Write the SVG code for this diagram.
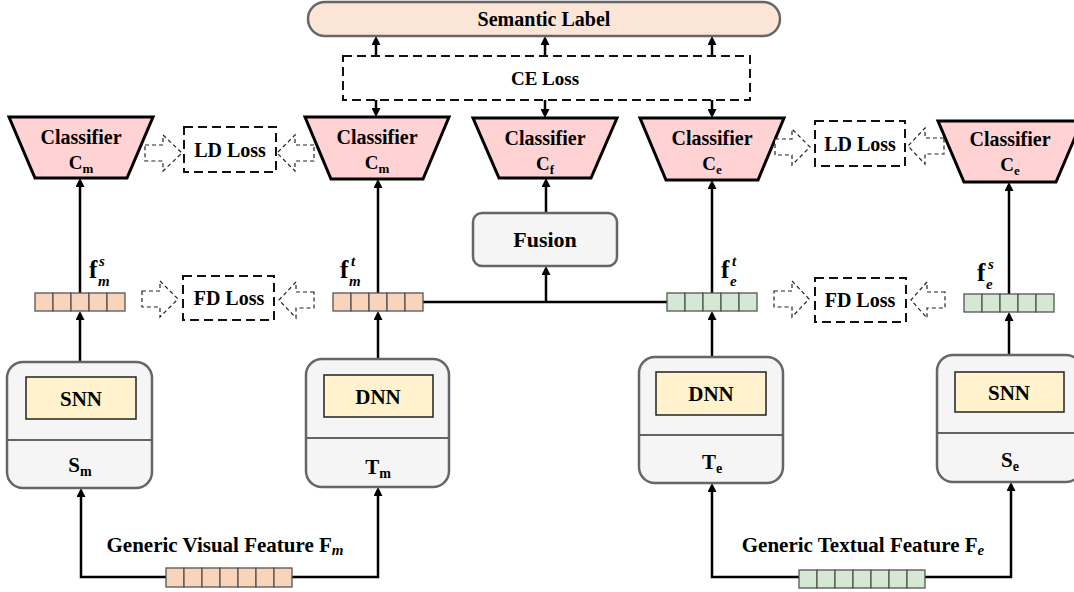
<svg xmlns="http://www.w3.org/2000/svg" width="1074" height="592" viewBox="0 0 1074 592">
<style>
.t{font-family:"Liberation Serif","Times New Roman",serif;font-weight:bold;fill:#000}
.i{font-style:italic}
.loss{fill:#fff;stroke:#111;stroke-width:2;stroke-dasharray:9 5}
.blk{fill:#fff;stroke:#222;stroke-width:1.2;stroke-dasharray:4 3}
.cls{fill:#ffd3d3;stroke:#000;stroke-width:3}
.model{fill:#f5f5f5;stroke:#666;stroke-width:2.5}
.inner{fill:#fff2cc;stroke:#222;stroke-width:1.5}
.dv{stroke:#333;stroke-width:1.5}
.vo rect{fill:#f8d4bb;stroke:#555;stroke-width:1.3}
.vg rect{fill:#d5e8d4;stroke:#555;stroke-width:1.3}
.c{fill:none;stroke:#000;stroke-width:2.5;marker-end:url(#ah)}
.l{fill:none;stroke:#000;stroke-width:2.5}
</style>
<defs>
<marker id="ah" markerUnits="userSpaceOnUse" viewBox="0 0 9 9" markerWidth="9" markerHeight="9" refX="6" refY="4.5" orient="auto">
<path d="M0,0 L9,4.5 L0,9 Z" fill="#000"/>
</marker>
</defs>

<g id="connectors">
<path class="c" d="M376,56 V39"/>
<path class="c" d="M545,56 V39"/>
<path class="c" d="M712,56 V39"/>
<path class="c" d="M376,100 V114"/>
<path class="c" d="M545,100 V115"/>
<path class="c" d="M712,100 V115"/>
<path class="c" d="M80,293 V181"/>
<path class="c" d="M378,293 V182"/>
<path class="c" d="M712,293 V183"/>
<path class="c" d="M1009,294 V185"/>
<path class="c" d="M546,213 V181"/>
<path class="c" d="M546,302 V269"/>
<path class="l" d="M423,302 H667"/>
<path class="c" d="M80,362 V314"/>
<path class="c" d="M378,359 V314"/>
<path class="c" d="M712,357 V314"/>
<path class="c" d="M1009,355 V315"/>
<path class="c" d="M166,577 H81 V491"/>
<path class="c" d="M292,577 H378 V490"/>
<path class="c" d="M799,577 H712 V486"/>
<path class="c" d="M925,577 H1011 V485"/>
</g>

<g id="semantic-label">
<rect x="308" y="2" width="472" height="34" rx="17" fill="#fbe5d6" stroke="#666" stroke-width="2.5"/>
<text class="t" x="544" y="26" font-size="20" text-anchor="middle">Semantic Label</text>
</g>

<g id="ce-loss">
<rect class="loss" x="343" y="56" width="407" height="44"/>
<text class="t" x="545" y="85" font-size="19" text-anchor="middle">CE Loss</text>
</g>

<g id="classifier-sm">
<polygon class="cls" points="9,117 153,117 127,178 35,178"/>
<text class="t" x="81" y="144" font-size="20" text-anchor="middle">Classifier</text>
<text class="t" x="81" y="169" font-size="19" text-anchor="middle">C<tspan font-size="13" dy="4">m</tspan></text>
</g>
<g id="classifier-tm">
<polygon class="cls" points="305,117 449,117 423,179 331,179"/>
<text class="t" x="377" y="144" font-size="20" text-anchor="middle">Classifier</text>
<text class="t" x="377" y="169" font-size="19" text-anchor="middle">C<tspan font-size="13" dy="4">m</tspan></text>
</g>
<g id="classifier-f">
<polygon class="cls" points="473,118 617,118 591,178 499,178"/>
<text class="t" x="545" y="145" font-size="20" text-anchor="middle">Classifier</text>
<text class="t" x="545" y="170" font-size="19" text-anchor="middle">C<tspan font-size="13" dy="4">f</tspan></text>
</g>
<g id="classifier-te">
<polygon class="cls" points="640,118 784,118 758,180 666,180"/>
<text class="t" x="712" y="145" font-size="20" text-anchor="middle">Classifier</text>
<text class="t" x="712" y="170" font-size="19" text-anchor="middle">C<tspan font-size="13" dy="4">e</tspan></text>
</g>
<g id="classifier-se">
<polygon class="cls" points="938,121 1082,121 1056,182 964,182"/>
<text class="t" x="1010" y="146" font-size="20" text-anchor="middle">Classifier</text>
<text class="t" x="1010" y="171" font-size="19" text-anchor="middle">C<tspan font-size="13" dy="4">e</tspan></text>
</g>

<g id="ld-loss-m">
<path class="blk" d="M145,145 H163 V135 L182,153 L163,171 V161 H145 Z"/>
<rect class="loss" x="184" y="127" width="92" height="45"/>
<text class="t" x="230" y="157" font-size="20" text-anchor="middle">LD Loss</text>
<path class="blk" d="M314,145 H295 V135 L277,153 L295,171 V161 H314 Z"/>
</g>
<g id="ld-loss-e">
<path class="blk" d="M775,139 H792 V129 L810,147 L792,165 V155 H775 Z"/>
<rect class="loss" x="815" y="121" width="90" height="45"/>
<text class="t" x="860" y="151" font-size="20" text-anchor="middle">LD Loss</text>
<path class="blk" d="M944,138 H925 V128 L908,146 L925,164 V154 H944 Z"/>
</g>
<g id="fd-loss-m">
<path class="blk" d="M142,291 H160 V281 L178,299 L160,317 V307 H142 Z"/>
<rect class="loss" x="183" y="276" width="91" height="44"/>
<text class="t" x="229" y="305" font-size="20" text-anchor="middle">FD Loss</text>
<path class="blk" d="M314,292 H296 V282 L279,300 L296,318 V308 H314 Z"/>
</g>
<g id="fd-loss-e">
<path class="blk" d="M774,291 H792 V281 L809,299 L792,317 V307 H774 Z"/>
<rect class="loss" x="815" y="278" width="91" height="44"/>
<text class="t" x="860" y="307" font-size="20" text-anchor="middle">FD Loss</text>
<path class="blk" d="M945,292 H927 V282 L911,300 L927,318 V308 H945 Z"/>
</g>

<g id="fusion">
<rect x="473" y="213" width="144" height="53" rx="9" fill="#f5f5f5" stroke="#666" stroke-width="2.5"/>
<text class="t" x="545" y="247" font-size="22" text-anchor="middle">Fusion</text>
</g>

<g id="feat-ms" class="vo">
<rect x="35" y="293" width="18" height="18"/><rect x="53" y="293" width="18" height="18"/><rect x="71" y="293" width="18" height="18"/><rect x="89" y="293" width="18" height="18"/><rect x="107" y="293" width="18" height="18"/>
<text class="t" x="89" y="278" font-size="25">f</text>
<text class="t i" x="99" y="266" font-size="15">s</text>
<text class="t i" x="98" y="286" font-size="15">m</text>
</g>
<g id="feat-mt" class="vo">
<rect x="333" y="293" width="18" height="18"/><rect x="351" y="293" width="18" height="18"/><rect x="369" y="293" width="18" height="18"/><rect x="387" y="293" width="18" height="18"/><rect x="405" y="293" width="18" height="18"/>
<text class="t" x="340" y="278" font-size="25">f</text>
<text class="t i" x="351" y="266" font-size="15">t</text>
<text class="t i" x="349" y="286" font-size="15">m</text>
</g>
<g id="feat-et" class="vg">
<rect x="667" y="293" width="18" height="18"/><rect x="685" y="293" width="18" height="18"/><rect x="703" y="293" width="18" height="18"/><rect x="721" y="293" width="18" height="18"/><rect x="739" y="293" width="18" height="18"/>
<text class="t" x="721" y="278" font-size="25">f</text>
<text class="t i" x="732" y="266" font-size="15">t</text>
<text class="t i" x="730" y="286" font-size="15">e</text>
</g>
<g id="feat-es" class="vg">
<rect x="964" y="294" width="18" height="18"/><rect x="982" y="294" width="18" height="18"/><rect x="1000" y="294" width="18" height="18"/><rect x="1018" y="294" width="18" height="18"/><rect x="1036" y="294" width="18" height="18"/>
<text class="t" x="977" y="281" font-size="25">f</text>
<text class="t i" x="988" y="269" font-size="15">s</text>
<text class="t i" x="986" y="289" font-size="15">e</text>
</g>

<g id="model-sm">
<rect class="model" x="7" y="362" width="145" height="126" rx="16"/>
<line class="dv" x1="8" y1="440" x2="151" y2="440"/>
<rect class="inner" x="26" y="377" width="110" height="42"/>
<text class="t" x="81" y="406" font-size="21" text-anchor="middle">SNN</text>
<text class="t" x="80" y="472" font-size="21" text-anchor="middle">S<tspan font-size="14" dy="4">m</tspan></text>
</g>
<g id="model-tm">
<rect class="model" x="306" y="359" width="143" height="128" rx="16"/>
<line class="dv" x1="307" y1="438" x2="448" y2="438"/>
<rect class="inner" x="324" y="375" width="109" height="42"/>
<text class="t" x="378" y="404" font-size="21" text-anchor="middle">DNN</text>
<text class="t" x="378" y="474" font-size="21" text-anchor="middle">T<tspan font-size="14" dy="4">m</tspan></text>
</g>
<g id="model-te">
<rect class="model" x="639" y="357" width="144" height="126" rx="16"/>
<line class="dv" x1="640" y1="435" x2="782" y2="435"/>
<rect class="inner" x="656" y="372" width="110" height="43"/>
<text class="t" x="711" y="401" font-size="21" text-anchor="middle">DNN</text>
<text class="t" x="712" y="469" font-size="21" text-anchor="middle">T<tspan font-size="14" dy="4">e</tspan></text>
</g>
<g id="model-se">
<rect class="model" x="937" y="355" width="145" height="127" rx="16"/>
<line class="dv" x1="938" y1="433" x2="1081" y2="433"/>
<rect class="inner" x="955" y="372" width="109" height="40"/>
<text class="t" x="1009" y="400" font-size="21" text-anchor="middle">SNN</text>
<text class="t" x="1010" y="467" font-size="21" text-anchor="middle">S<tspan font-size="14" dy="4">e</tspan></text>
</g>

<g id="visual-feature" class="vo">
<rect x="166" y="568" width="18" height="19"/><rect x="184" y="568" width="18" height="19"/><rect x="202" y="568" width="18" height="19"/><rect x="220" y="568" width="18" height="19"/><rect x="238" y="568" width="18" height="19"/><rect x="256" y="568" width="18" height="19"/><rect x="274" y="568" width="18" height="19"/>
<text class="t" x="225" y="552" font-size="21" text-anchor="middle">Generic Visual Feature F<tspan class="i" font-size="15" dy="3">m</tspan></text>
</g>
<g id="textual-feature" class="vg">
<rect x="799" y="570" width="18" height="18"/><rect x="817" y="570" width="18" height="18"/><rect x="835" y="570" width="18" height="18"/><rect x="853" y="570" width="18" height="18"/><rect x="871" y="570" width="18" height="18"/><rect x="889" y="570" width="18" height="18"/><rect x="907" y="570" width="18" height="18"/>
<text class="t" x="863" y="552" font-size="21" text-anchor="middle">Generic Textual Feature F<tspan class="i" font-size="15" dy="3">e</tspan></text>
</g>
</svg>
